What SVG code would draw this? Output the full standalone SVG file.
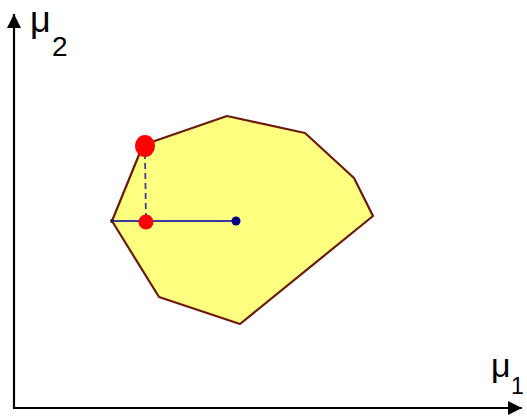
<svg xmlns="http://www.w3.org/2000/svg" width="527" height="418" viewBox="0 0 527 418">
<style>
.axis{stroke:#000;stroke-width:2.2;fill:none}
.lbl{font-family:"Liberation Sans",Arial,sans-serif;fill:#000}
.blue{stroke:#3A3AA0;stroke-width:1.8;fill:none}
</style>
<defs>
<marker id="ah" viewBox="0 0 10 10" refX="10" refY="5" markerWidth="18" markerHeight="14" markerUnits="userSpaceOnUse" orient="auto">
<path d="M0,0 L10,5 L0,10 Z" fill="#000"/>
</marker>
</defs>
<rect width="527" height="418" fill="#fff"/>
<g id="region">
<polygon points="112,221 143,145 227,116 305,133 354,178 373,216 240,324 159,297" fill="#FFFF80" stroke="#6B1A0A" stroke-width="2.2" stroke-linejoin="round"/>
</g>
<g id="connectors">
<path class="axis" d="M14,408 L14,14" marker-end="url(#ah)"/>
<path class="axis" d="M13,408 L522,408" marker-end="url(#ah)"/>
<line class="blue" x1="112" y1="221" x2="236" y2="221"/>
<line class="blue" x1="145" y1="153" x2="146" y2="221" stroke-dasharray="6,4"/>
</g>
<g id="points">
<ellipse cx="145" cy="146" rx="10" ry="11" fill="#FF0000"/>
<circle cx="146" cy="222" r="7.5" fill="#FF0000"/>
<circle cx="236" cy="221" r="4.5" fill="#000080"/>
<circle cx="112" cy="221" r="2" fill="#3A1A30"/>
</g>
<g id="label-mu2">
<text class="lbl" x="30" y="32" font-size="36">μ</text>
<text class="lbl" x="52" y="56" font-size="28">2</text>
</g>
<g id="label-mu1">
<text class="lbl" x="491" y="377" font-size="34">μ</text>
<text class="lbl" x="511" y="394" font-size="23">1</text>
</g>
</svg>
